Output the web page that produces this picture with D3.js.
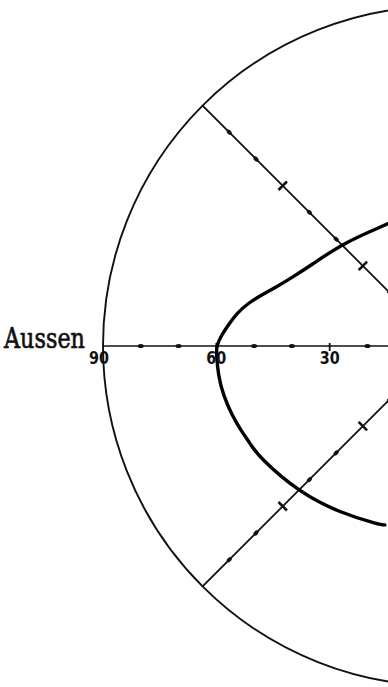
<!DOCTYPE html>
<html>
<head>
<meta charset="utf-8">
<script src="https://cdn.jsdelivr.net/npm/d3@7"></script>
<style>
  html, body { margin: 0; padding: 0; background: #fff; }
</style>
</head>
<body>
<div id="chart"></div>
<script>
// meridians drawn (math angle, counter-clockwise from the right, degrees)
const meridians = [135, 180, 225];
// eccentricity marks along each meridian
const dotDegrees = [80, 70, 50, 40, 20];
const crossDegrees = [60, 30];
const axisLabels = [90, 60, 30];
const sideLabel = "Aussen";

// isopter: meridian angle and eccentricity
const isopterAngle = [112, 115.6, 134.2, 149.0, 155.2, 160.4, 164.3, 167.6, 171.0, 174.4, 177.2, 180, 182.3, 187.4, 192.6, 198.1, 203.1, 206.7, 210.8, 225.8, 238.3, 250.6, 252];
const isopterDeg   = [35.5, 35.5, 38.0, 41.1, 43.7, 46.7, 49.9, 52.8, 55.3, 57.1, 58.7, 60.0, 60.0, 60.0, 59.6, 58.8, 57.9, 57.2, 57.0, 54.3, 51.9, 50.2, 49.8];

const width = 388;
const height = 687;
const cx = 443, cy = 346;

const svg = d3.select("#chart")
  .append("svg")
  .attr("width", width)
  .attr("height", height)
  .style("background", "#ffffff");

const r = d3.scaleLinear().domain([0, 90]).range([0, 340]);
const rad = a => a * Math.PI / 180;

const g = svg.append("g").attr("transform", `translate(${cx},${cy})`);

// outer 90 degree circle
g.append("circle")
  .attr("r", r(90))
  .attr("fill", "none")
  .attr("stroke", "#111")
  .attr("stroke-width", 1.9);

// meridian lines
g.selectAll("line.meridian")
  .data(meridians)
  .enter()
  .append("line")
  .attr("class", "meridian")
  .attr("x1", 0).attr("y1", 0)
  .attr("x2", d => r(90) * Math.cos(rad(d)))
  .attr("y2", d => -r(90) * Math.sin(rad(d)))
  .attr("stroke", "#111")
  .attr("stroke-width", d => d === 180 ? 1.5 : 1.8);

// dots along meridians
const dotData = meridians.flatMap(m => dotDegrees.map(v => ({ m, v })));
g.selectAll("ellipse.dot")
  .data(dotData)
  .enter()
  .append("ellipse")
  .attr("class", "dot")
  .attr("rx", 3)
  .attr("ry", 2)
  .attr("transform", d => `translate(${r(d.v) * Math.cos(rad(d.m))},${-r(d.v) * Math.sin(rad(d.m))}) rotate(${-d.m})`)
  .attr("fill", "#111");

// crosses along meridians (short strokes across the line)
const crossData = meridians.flatMap(m => crossDegrees.map(v => ({ m, v })));
g.selectAll("line.cross")
  .data(crossData)
  .enter()
  .append("line")
  .attr("class", "cross")
  .attr("transform", d => `translate(${r(d.v) * Math.cos(rad(d.m))},${-r(d.v) * Math.sin(rad(d.m))}) rotate(${-d.m})`)
  .attr("x1", 0).attr("x2", 0)
  .attr("y1", d => d.m === 180 ? -5 : -6)
  .attr("y2", d => d.m === 180 ? 3 : 6)
  .attr("stroke", "#111")
  .attr("stroke-width", d => d.m === 180 ? 1.8 : 2.6);

// isopter
const isopter = isopterAngle.map((a, i) => [rad(90 - a), r(isopterDeg[i])]);
g.append("path")
  .datum(isopter)
  .attr("d", d3.lineRadial().angle(d => d[0]).radius(d => d[1]).curve(d3.curveBasis))
  .attr("fill", "none")
  .attr("stroke", "#000")
  .attr("stroke-width", 3.4)
  .attr("stroke-linecap", "round");

// degree labels under the horizontal meridian
g.selectAll("text.deg")
  .data(axisLabels)
  .enter()
  .append("text")
  .attr("class", "deg")
  .attr("x", d => -r(d) + (d === 90 ? -4 : 0))
  .attr("y", 18)
  .attr("text-anchor", "middle")
  .attr("font-family", "DejaVu Sans")
  .attr("font-weight", "bold")
  .attr("font-size", 18)
  .attr("textLength", 20)
  .attr("lengthAdjust", "spacingAndGlyphs")
  .attr("fill", "#111")
  .text(d => d);

// side label
svg.append("text")
  .attr("x", 4)
  .attr("y", cy + 2)
  .attr("font-family", "DejaVu Serif")
  .attr("font-size", 28)
  .attr("textLength", 81)
  .attr("lengthAdjust", "spacingAndGlyphs")
  .attr("fill", "#111")
  .attr("stroke", "#111")
  .attr("stroke-width", 0.7)
  .text(sideLabel);
</script>
</body>
</html>
